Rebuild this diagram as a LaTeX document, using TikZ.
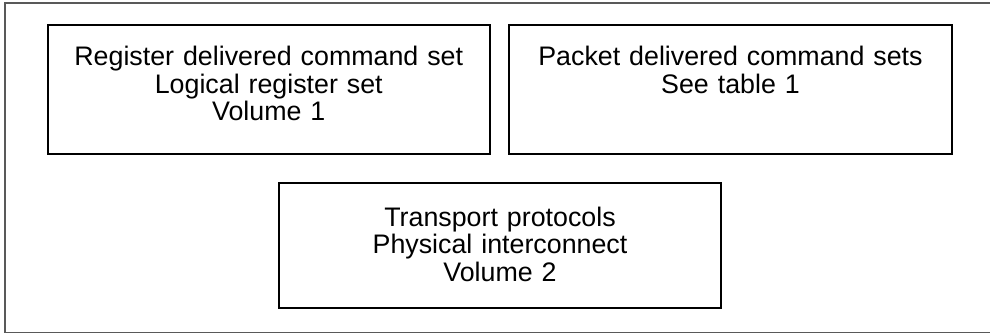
\documentclass[tikz,border=0pt]{standalone}
\usepackage{fontspec}
\setmainfont{Liberation Sans}
\begin{document}
\begin{tikzpicture}[x=1pt,y=-1pt,
    cmdbox/.style={draw,line width=2pt,anchor=north west,inner sep=0pt,align=center,
      font=\fontsize{26.8}{27.5}\selectfont}]
        \useasboundingbox (0,0) rectangle (990,334);
        % draw the outer frame
        \draw[black!65,line width=1.3pt] (995,3) -- (5,3) -- (5,332.5) -- (995,332.5);
        % draw the command set boxes
        \node[cmdbox,text width=442.5pt,text height=41pt,text depth=88pt] (regset) at (46.5,24)
          {Register delivered command set\\Logical register set\\Volume 1};
        \node[cmdbox,text width=443pt,text height=41pt,text depth=88pt] (pktset) at (508,24)
          {Packet delivered command sets\\See table 1};
        % draw the transport box
        \node[cmdbox,text width=442pt,text height=43pt,text depth=82pt] (transport) at (278,182)
          {Transport protocols\\Physical interconnect\\Volume 2};
\end{tikzpicture}
\end{document}
